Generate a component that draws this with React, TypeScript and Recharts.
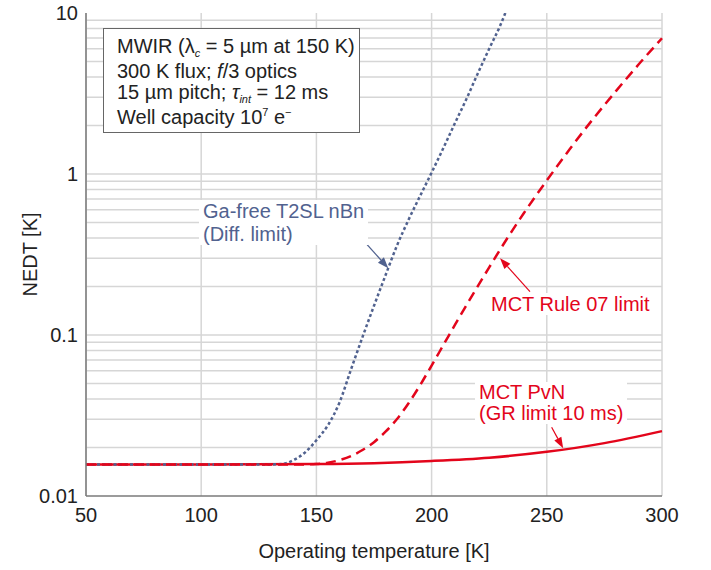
import React from 'react';
import { LineChart, Line, XAxis, YAxis, CartesianGrid, ReferenceLine } from 'recharts';

// x axis / y axis ticks
const tempTicks = [50, 100, 150, 200, 250, 300];
const nedtTicks = [0.01, 0.1, 1, 10];
const minorGrid = [0.02, 0.03, 0.04, 0.05, 0.06, 0.07, 0.08, 0.09, 0.1, 0.2, 0.3, 0.4, 0.5, 0.6, 0.7, 0.8, 0.9, 1, 2, 3, 4, 5, 6, 7, 8, 9];

// Ga-free T2SL nBn (diffusion limit)
const t2slTemps = [50, 100, 130, 135, 140, 145, 150, 155, 160, 165, 170, 175, 180, 185, 190, 195, 200, 205, 210, 215, 220, 225, 230, 232];
const t2slNedt = [0.0157, 0.0157, 0.0157, 0.0158, 0.0167, 0.0186, 0.0222, 0.0275, 0.038, 0.061, 0.097, 0.152, 0.235, 0.36, 0.52, 0.73, 1.02, 1.44, 2.05, 2.9, 4.2, 6.0, 8.5, 10];

// MCT Rule 07 limit
const rule07Temps = [50, 100, 145, 150, 155, 160, 165, 170, 175, 180, 185, 190, 195, 200, 205, 210, 215, 220, 225, 230, 235, 240, 245, 250, 260, 270, 280, 290, 300];
const rule07Nedt = [0.0157, 0.0157, 0.0157, 0.0158, 0.0161, 0.0167, 0.0177, 0.0193, 0.0216, 0.0251, 0.0301, 0.0377, 0.0488, 0.0646, 0.0861, 0.1148, 0.152, 0.2005, 0.263, 0.344, 0.445, 0.57, 0.724, 0.912, 1.43, 2.19, 3.27, 4.82, 6.97];

// MCT PvN (GR limit 10 ms)
const pvnTemps = [50, 100, 150, 175, 200, 225, 250, 275, 300];
const pvnNedt = [0.0157, 0.0157, 0.0158, 0.016, 0.0165, 0.0173, 0.0188, 0.0213, 0.0253];

// annotation arrows: [tail, tip] in data units
const t2slArrow = [{ x: 162.4, y: 0.518 }, { x: 181.2, y: 0.26 }];
const rule07Arrow = [{ x: 242.7, y: 0.186 }, { x: 229.7, y: 0.3 }];
const pvnArrow = [{ x: 252.1, y: 0.0267 }, { x: 257.1, y: 0.0198 }];

const toRows = (ts: number[], vs: number[]) => ts.map((t, i) => ({ t, v: vs[i] }));
const t2slData = toRows(t2slTemps, t2slNedt);
const rule07Data = toRows(rule07Temps, rule07Nedt);
const pvnData = toRows(pvnTemps, pvnNedt);

const RED = '#e3051b';
const BLUE = '#51628f';
const GRID = '#d6d6d6';
const AXIS = '#7a7a7a';
const FONT = "'Liberation Sans', Arial, sans-serif";

const arrowShape = (color: string) => (props: any) => {
  const { x1, y1, x2, y2 } = props;
  const a = Math.atan2(y2 - y1, x2 - x1);
  const len = 11;
  const w = 4;
  const bx = x2 - len * Math.cos(a);
  const by = y2 - len * Math.sin(a);
  const px = -Math.sin(a) * w;
  const py = Math.cos(a) * w;
  return (
    <g>
      <line x1={x1} y1={y1} x2={bx} y2={by} stroke={color} strokeWidth={1.2} />
      <polygon points={`${x2},${y2} ${bx + px},${by + py} ${bx - px},${by - py}`} fill={color} />
    </g>
  );
};

const labelStyle: React.CSSProperties = {
  position: 'absolute',
  background: '#fff',
  fontFamily: FONT,
  fontSize: 20,
  whiteSpace: 'nowrap',
  padding: '0 4px',
};

const App = () => {
  return (
    <div style={{ position: 'absolute', left: 0, top: 0, width: 711, height: 570, background: '#fff' }}>
      <LineChart width={711} height={570} margin={{ top: 13, right: 49, left: 0, bottom: 0 }}>
        <CartesianGrid horizontal={false} stroke={GRID} strokeWidth={1.5} />
        {minorGrid.map((g) => (
          <ReferenceLine key={g} y={g} stroke={GRID} strokeWidth={1.5} />
        ))}
        <XAxis
          type="number"
          dataKey="t"
          domain={[50, 300]}
          ticks={tempTicks}
          tickLine={false}
          axisLine={{ stroke: AXIS, strokeWidth: 1.5 }}
          tick={{ fill: '#222', fontSize: 20, fontFamily: FONT }}
          tickMargin={6}
          height={74}
          label={{
            content: ({ viewBox }: any) => (
              <text x={viewBox.x + viewBox.width / 2} y={viewBox.y + 62} textAnchor="middle" fontSize={20} fontFamily={FONT} fill="#222">
                Operating temperature [K]
              </text>
            ),
          }}
        />
        <XAxis xAxisId="top" orientation="top" type="number" domain={[50, 300]} height={0} tick={false} tickLine={false} axisLine={{ stroke: AXIS, strokeWidth: 1.5 }} />
        <YAxis
          scale="log"
          domain={[0.01, 10]}
          ticks={nedtTicks}
          allowDataOverflow
          tickLine={false}
          axisLine={{ stroke: AXIS, strokeWidth: 1.5 }}
          tick={{ fill: '#222', fontSize: 20, fontFamily: FONT }}
          tickFormatter={(v: number) => String(v)}
          width={86}
          label={{
            content: ({ viewBox }: any) => {
              const cx = 37;
              const cy = viewBox.y + viewBox.height / 2;
              return (
                <text x={cx} y={cy} transform={`rotate(-90 ${cx} ${cy})`} textAnchor="middle" fontSize={20} fontFamily={FONT} fill="#222">
                  NEDT [K]
                </text>
              );
            },
          }}
        />
        <YAxis yAxisId="right" orientation="right" width={0} tick={false} tickLine={false} domain={[0, 1]} axisLine={{ stroke: AXIS, strokeWidth: 1.5 }} />
        <Line data={pvnData} dataKey="v" type="monotone" stroke={RED} strokeWidth={2.5} dot={false} isAnimationActive={false} />
        <Line data={t2slData} dataKey="v" type="monotone" stroke={BLUE} strokeWidth={2.5} strokeDasharray="3 2.5" dot={false} isAnimationActive={false} />
        <Line data={rule07Data} dataKey="v" type="monotone" stroke={RED} strokeWidth={2.5} strokeDasharray="10 6" dot={false} isAnimationActive={false} />
        <ReferenceLine segment={t2slArrow} shape={arrowShape(BLUE)} />
        <ReferenceLine segment={rule07Arrow} shape={arrowShape(RED)} />
        <ReferenceLine segment={pvnArrow} shape={arrowShape(RED)} />
      </LineChart>

      <div
        style={{
          position: 'absolute',
          left: 103,
          top: 28,
          width: 257,
          height: 105,
          boxSizing: 'border-box',
          border: '1.5px solid #666',
          background: '#fff',
          fontFamily: FONT,
          fontSize: 20,
          lineHeight: '21.5px',
          color: '#222',
          padding: '7px 0 0 13px',
          whiteSpace: 'nowrap',
        }}
      >
        <div>
          MWIR (λ<span style={{ fontSize: 11, position: 'relative', top: 4, fontStyle: 'italic' }}>c</span> = 5 µm at 150 K)
        </div>
        <div>
          300 K flux; <i>f</i>/3 optics
        </div>
        <div>
          15 µm pitch; <i>τ</i>
          <span style={{ fontSize: 11, position: 'relative', top: 4, fontStyle: 'italic' }}>int</span> = 12 ms
        </div>
        <div>
          Well capacity 10<span style={{ fontSize: 11, position: 'relative', top: -8 }}>7</span> e
          <span style={{ fontSize: 11, position: 'relative', top: -8 }}>−</span>
        </div>
      </div>

      <div style={{ ...labelStyle, left: 199, top: 200, color: BLUE, lineHeight: '22.5px' }}>
        Ga-free T2SL nBn
        <br />
        (Diff. limit)
      </div>
      <div style={{ ...labelStyle, left: 487, top: 293, color: RED, lineHeight: '22px' }}>MCT Rule 07 limit</div>
      <div style={{ ...labelStyle, left: 475, top: 382, color: RED, lineHeight: '21px' }}>
        MCT PvN
        <br />
        (GR limit 10 ms)
      </div>
    </div>
  );
};

export default App;
